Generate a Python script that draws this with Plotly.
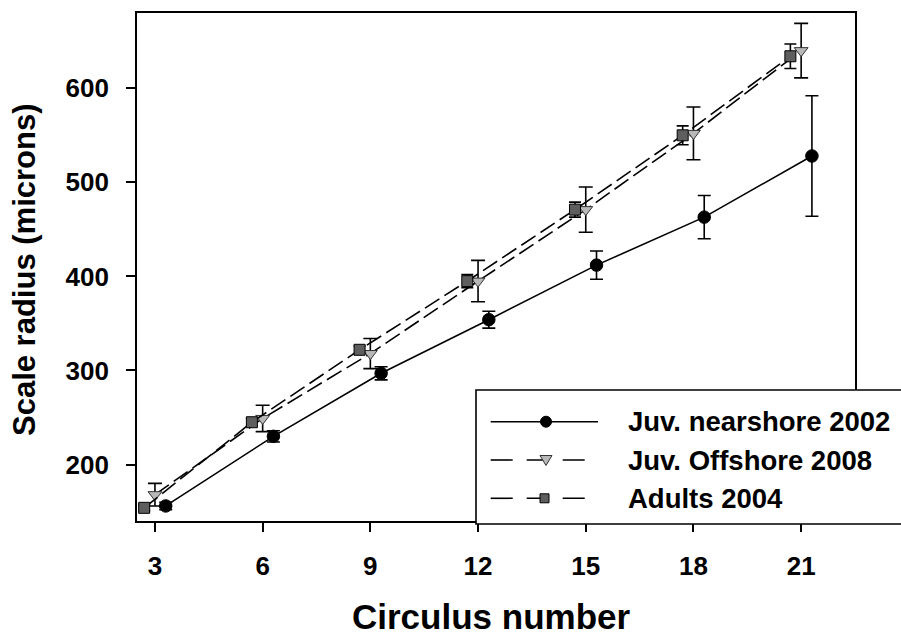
import plotly.graph_objects as go

# Circulus number at which scale radius was measured
circulus = [3, 6, 9, 12, 15, 18, 21]

# Mean scale radius (microns) and error-bar half-widths for each group
nearshore_2002 = [156, 230, 297, 354, 412, 463, 528]
nearshore_2002_err = [4, 6, 7, 9, 15, 23, 64]

offshore_2008 = [168, 249, 318, 395, 471, 552, 640]
offshore_2008_err = [12, 14, 16, 22, 24, 28, 29]

adults_2004 = [154, 245, 322, 395, 471, 550, 634]
adults_2004_err = [3, 4, 4, 7, 8, 10, 13]

x_ticks = [3, 6, 9, 12, 15, 18, 21]
y_ticks = [200, 300, 400, 500, 600]

series_names = ["Juv. nearshore 2002", "Juv. Offshore 2008", "Adults 2004"]

# ---- layout constants -------------------------------------------------
W, H = 901, 637
ML, MR, MT, MB = 137, 46, 13, 116
FONT = "Liberation Sans, Arial, Helvetica, sans-serif"
DASH = "17px,6px"

# small horizontal dodge so the three groups don't overlap
DODGE = {"near": 0.3, "off": 0.0, "adult": -0.3}

plot_w = W - ML - MR
plot_h = H - MT - MB


def px_x(p):
    """pixel column -> paper x"""
    return (p - ML) / plot_w


def px_y(p):
    """pixel row -> paper y"""
    return (H - MB - p) / plot_h


fig = go.Figure()


def err(arr, width):
    return dict(type="data", array=arr, visible=True, color="black",
                thickness=1.6, width=width)


fig.add_trace(go.Scatter(
    x=[c + DODGE["near"] for c in circulus], y=nearshore_2002,
    mode="lines+markers", name=series_names[0],
    line=dict(color="black", width=1.6),
    marker=dict(symbol="circle", size=12.5, color="black",
                line=dict(color="black", width=1)),
    error_y=err(nearshore_2002_err, 6.5),
))

fig.add_trace(go.Scatter(
    x=[c + DODGE["off"] for c in circulus], y=offshore_2008,
    mode="lines+markers", name=series_names[1],
    line=dict(color="black", width=1.6, dash=DASH),
    marker=dict(symbol="triangle-down", size=12, color="#b8b8b8",
                line=dict(color="#333333", width=1)),
    error_y=err(offshore_2008_err, 7),
))

fig.add_trace(go.Scatter(
    x=[c + DODGE["adult"] for c in circulus], y=adults_2004,
    mode="lines+markers", name=series_names[2],
    line=dict(color="black", width=1.6, dash=DASH),
    marker=dict(symbol="square", size=11, color="#5e5e5e",
                line=dict(color="black", width=1)),
    error_y=err(adults_2004_err, 6),
))

axis_common = dict(
    showgrid=False, zeroline=False, showline=True, linecolor="black",
    linewidth=1.6, mirror=True, ticks="outside", ticklen=9, tickwidth=1.6,
    tickcolor="black",
    tickfont=dict(family=FONT, size=26, color="black", weight="bold"),
)

fig.update_xaxes(range=[2.5, 22.5], tickvals=x_ticks, ticklabelstandoff=12,
                 **axis_common)
fig.update_yaxes(range=[140, 680], tickvals=y_ticks, ticklabelstandoff=12,
                 **axis_common)

# ---- legend box drawn by hand (long line samples) ---------------------
shapes = []
annotations = []

box = dict(x0=476, x1=910, y0=390, y1=524)
shapes.append(dict(type="rect", xref="paper", yref="paper", layer="above",
                   x0=px_x(box["x0"]), x1=px_x(box["x1"]),
                   y0=px_y(box["y1"]), y1=px_y(box["y0"]),
                   fillcolor="white", line=dict(color="black", width=1.6)))

rows = [421.7, 460.0, 498.3]
line_x0, line_x1 = 490.7, 598.0
mark_x = 546.0
text_x = 626.0
legend_dash = [None, "22px,14px", "22px,14px"]

for i, ry in enumerate(rows):
    ln = dict(color="black", width=1.6)
    if legend_dash[i]:
        ln["dash"] = legend_dash[i]
    shapes.append(dict(type="line", xref="paper", yref="paper", layer="above",
                       x0=px_x(line_x0), x1=px_x(line_x1),
                       y0=px_y(ry), y1=px_y(ry), line=ln))
    annotations.append(dict(
        xref="paper", yref="paper", x=px_x(text_x), y=px_y(ry),
        xanchor="left", yanchor="middle", showarrow=False,
        text=series_names[i],
        font=dict(family=FONT, size=27.5, color="black", weight="bold"),
    ))

# legend symbols
r = 5.5
shapes.append(dict(type="circle", xref="paper", yref="paper", layer="above",
                   x0=px_x(mark_x - r), x1=px_x(mark_x + r),
                   y0=px_y(rows[0] + r), y1=px_y(rows[0] - r),
                   fillcolor="black", line=dict(color="black", width=1)))
tri = "M {a},{b} L {c},{b} L {d},{e} Z".format(
    a=px_x(mark_x - 6), c=px_x(mark_x + 6), b=px_y(rows[1] - 4.5),
    d=px_x(mark_x), e=px_y(rows[1] + 5.5))
shapes.append(dict(type="path", xref="paper", yref="paper", layer="above",
                   path=tri, fillcolor="#b8b8b8",
                   line=dict(color="#333333", width=1)))
s = 4.5
shapes.append(dict(type="rect", xref="paper", yref="paper", layer="above",
                   x0=px_x(mark_x - s - 1.5), x1=px_x(mark_x + s - 1.5),
                   y0=px_y(rows[2] + s), y1=px_y(rows[2] - s),
                   fillcolor="#5e5e5e", line=dict(color="black", width=1)))

# ---- axis titles ------------------------------------------------------
annotations.append(dict(
    xref="paper", yref="paper", x=px_x(491), y=px_y(616),
    xanchor="center", yanchor="middle", showarrow=False,
    text="Circulus number",
    font=dict(family=FONT, size=35, color="black", weight="bold"),
))
annotations.append(dict(
    xref="paper", yref="paper", x=px_x(24), y=px_y(270),
    xanchor="center", yanchor="middle", showarrow=False, textangle=-90,
    text="Scale radius (microns)",
    font=dict(family=FONT, size=31, color="black", weight="bold"),
))

fig.update_layout(
    width=W, height=H,
    margin=dict(l=ML, r=MR, t=MT, b=MB, pad=0),
    paper_bgcolor="white", plot_bgcolor="white",
    showlegend=False,
    shapes=shapes, annotations=annotations,
    font=dict(family=FONT, color="black"),
)

fig.write_html("out.html")
